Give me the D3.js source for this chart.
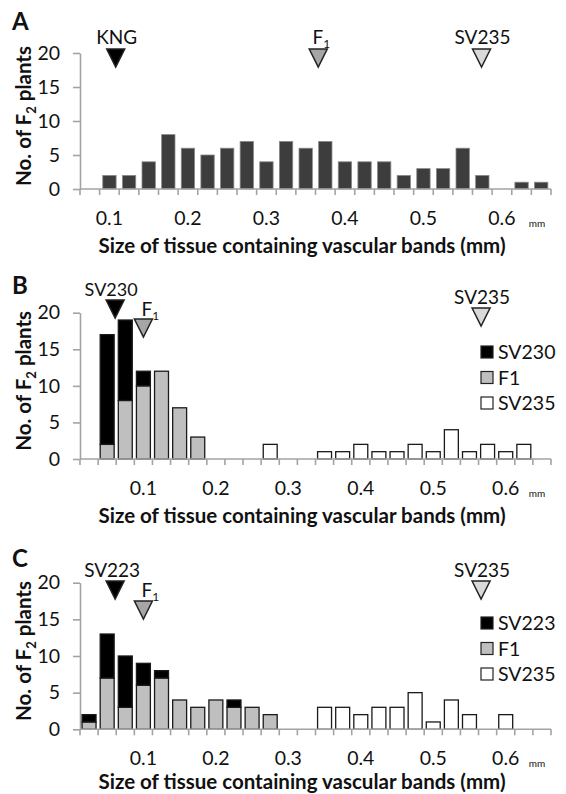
<!DOCTYPE html>
<html><head><meta charset="utf-8">
<script src="https://cdn.jsdelivr.net/npm/d3@7/dist/d3.min.js"></script>
<style>
body{margin:0;background:#fff}
svg{display:block}
text{font-family:Lato,"Open Sans",sans-serif;fill:#111}
</style>
</head><body>
<svg id="chart" width="566" height="794"></svg>
<script>
// ---------------- DATA ----------------
const binsA  = [0.075,0.1,0.125,0.15,0.175,0.2,0.225,0.25,0.275,0.3,0.325,0.35,0.375,0.4,0.425,0.45,0.475,0.5,0.525,0.55,0.575,0.6,0.625,0.65];
const countsA = [0,2,2,4,8,6,5,6,7,4,7,6,7,4,4,4,2,3,3,6,2,0,1,1];

const binsBC = [0.025,0.05,0.075,0.1,0.125,0.15,0.175,0.2,0.225,0.25,0.275,0.3,0.325,0.35,0.375,0.4,0.425,0.45,0.475,0.5,0.525,0.55,0.575,0.6,0.625,0.65];
const sv230B = [0,15,11,2,0,0,0,0,0,0,0,0,0,0,0,0,0,0,0,0,0,0,0,0,0,0];
const f1B    = [0,2,8,10,12,7,3,0,0,0,0,0,0,0,0,0,0,0,0,0,0,0,0,0,0,0];
const sv235B = [0,0,0,0,0,0,0,0,0,0,2,0,0,1,1,2,1,1,2,1,4,1,2,1,2,0];

const sv223C = [1,6,7,3,1,0,0,0,1,0,0,0,0,0,0,0,0,0,0,0,0,0,0,0,0,0];
const f1C    = [1,7,3,6,7,4,3,4,3,3,2,0,0,0,0,0,0,0,0,0,0,0,0,0,0,0];
const sv235C = [0,0,0,0,0,0,0,0,0,0,0,0,0,3,3,2,3,3,5,1,4,2,0,2,0,0];

const yTicks = [0,5,10,15,20];
const xTickLabels = [0.1,0.2,0.3,0.4,0.5,0.6];

const markerNamesA  = ["KNG","F","SV235"];
const markerSubsA   = ["","1",""];
const markerValuesA = [0.108,0.366,0.574];
const markerNamesB  = ["SV230","F","SV235"];
const markerSubsB   = ["","1",""];
const markerValuesB = [0.061,0.1,0.566];
const markerNamesC  = ["SV223","F","SV235"];
const markerSubsC   = ["","1",""];
const markerValuesC = [0.061,0.1,0.566];

const legendB = ["SV230","F1","SV235"];
const legendC = ["SV223","F1","SV235"];

// ---------------- STYLE ----------------
const COL_BLACK = "#000", COL_GRAY = "#bfbfbf", COL_WHITE = "#fff", COL_A = "#3d3d3d";
const markerFills = ["#000","#a6a6a6","#d9d9d9"];
const AXIS = "#a3a3a3";
const X0 = 80, X1 = 551;

const svg = d3.select("#chart");

function drawPanel(cfg){
  const g = svg.append("g");
  const n = cfg.bins.length;
  const band = d3.scaleBand().domain(cfg.bins).range([X0,X1]).paddingInner(cfg.pad).paddingOuter(cfg.pad/2);
  const step = band.step();
  const xl = d3.scaleLinear().domain([cfg.bins[0]-0.0125, cfg.bins[n-1]+0.0125]).range([X0,X1]);
  const y = d3.scaleLinear().domain([0,20]).range([cfg.base, cfg.top]);

  // panel letter
  g.append("text").attr("x",12).attr("y",cfg.letterY).attr("font-size",24).attr("font-weight","bold").text(cfg.letter);

  // y axis title
  const yt = g.append("text").attr("transform",`translate(31,${(cfg.base+cfg.top)/2-5}) rotate(-90)`)
    .attr("text-anchor","middle").attr("font-size",20.5).attr("font-weight","bold");
  yt.append("tspan").text("No. of F");
  yt.append("tspan").attr("font-size",13).attr("dy",5).text("2");
  yt.append("tspan").attr("dy",-5).text(" plants");

  // y axis
  const ya = g.append("g").attr("transform",`translate(${X0},0)`)
    .call(d3.axisLeft(y).tickValues(yTicks).tickSize(7).tickPadding(13).tickSizeOuter(0));
  ya.select(".domain").attr("stroke",AXIS).attr("stroke-width",1.6);
  ya.selectAll(".tick line").attr("stroke",AXIS).attr("stroke-width",1.6);
  ya.selectAll(".tick text").attr("font-size",19.5).attr("fill","#111").style("font-family","Lato, 'Open Sans', sans-serif");

  // bars
  if(cfg.single){
    g.selectAll("rect.a").data(cfg.bins).join("rect")
      .attr("x",d=>band(d)).attr("width",band.bandwidth())
      .attr("y",(d,i)=>y(cfg.single[i])).attr("height",(d,i)=>y(0)-y(cfg.single[i]))
      .attr("fill",COL_A).attr("stroke","#8a8a8a").attr("stroke-width",0.8)
      .attr("display",(d,i)=>cfg.single[i]>0?null:"none");
  } else {
    const rows = cfg.bins.map((b,i)=>({bin:b, f1:cfg.f1[i], par:cfg.par[i], sv:cfg.sv235[i]}));
    const stack = d3.stack().keys(["f1","par"])(rows);
    const fills = {f1:COL_GRAY, par:COL_BLACK};
    stack.forEach(layer=>{
      g.selectAll(null).data(layer.filter(d=>d[1]>d[0])).join("rect")
        .attr("x",d=>band(d.data.bin)).attr("width",band.bandwidth())
        .attr("y",d=>y(d[1])).attr("height",d=>y(d[0])-y(d[1]))
        .attr("fill",fills[layer.key]).attr("stroke","#1a1a1a").attr("stroke-width",1.3);
    });
    g.selectAll(null).data(rows.filter(d=>d.sv>0)).join("rect")
      .attr("x",d=>band(d.bin)).attr("width",band.bandwidth())
      .attr("y",d=>y(d.sv)).attr("height",d=>y(0)-y(d.sv))
      .attr("fill",COL_WHITE).attr("stroke","#1a1a1a").attr("stroke-width",1.3);
  }

  // x axis baseline with category boundary ticks
  g.append("line").attr("x1",X0).attr("x2",X1).attr("y1",cfg.base).attr("y2",cfg.base).attr("stroke",AXIS).attr("stroke-width",1.6);
  g.selectAll(null).data(d3.range(n+1)).join("line")
    .attr("x1",i=>X0+i*step).attr("x2",i=>X0+i*step)
    .attr("y1",cfg.base).attr("y2",cfg.base+6).attr("stroke",AXIS).attr("stroke-width",1.6);

  // x tick labels
  g.selectAll(null).data(xTickLabels).join("text")
    .attr("x",d=>xl(d)).attr("y",cfg.base+36).attr("text-anchor","middle").attr("font-size",19.5)
    .text(d=>d3.format(".1f")(d));
  g.append("text").attr("x",537).attr("y",cfg.base+38).attr("text-anchor","middle").attr("font-size",10).attr("fill","#333").text("mm");

  // x title
  g.append("text").attr("x",302).attr("y",cfg.base+cfg.titleDy).attr("text-anchor","middle")
    .attr("font-size",20.5).attr("font-weight","bold").text("Size of tissue containing vascular bands (mm)");

  // markers
  cfg.mNames.forEach((name,i)=>{
    const cx = xl(cfg.mValues[i]);
    const m = cfg.mPos[i];
    const t = g.append("text").attr("x",cx + m.dx).attr("y",m.label)
      .attr("text-anchor",m.anchor||"middle").attr("font-size",m.fs||19);
    t.append("tspan").text(name);
    if(cfg.mSubs[i]) t.append("tspan").attr("font-size",12).attr("dy",4).text(cfg.mSubs[i]);
    g.append("path").attr("d",`M${cx-9},${m.top}L${cx+9},${m.top}L${cx},${m.top+18}Z`)
      .attr("fill",markerFills[i]).attr("stroke","#222").attr("stroke-width",1.5).attr("stroke-linejoin","miter");
  });

  // legend
  if(cfg.legend){
    const lf = [COL_BLACK, COL_GRAY, COL_WHITE];
    cfg.legend.forEach((name,i)=>{
      const cy = cfg.legendY + i*25.5;
      g.append("rect").attr("x",481).attr("y",cy-6).attr("width",12).attr("height",12)
        .attr("fill",lf[i]).attr("stroke","#222").attr("stroke-width",1.2);
      g.append("text").attr("x",498).attr("y",cy+7).attr("font-size",19.5).text(name);
    });
  }
}

drawPanel({letter:"A", letterY:30, top:53, base:189, titleDy:64, pad:0.32,
  bins:binsA, single:countsA,
  mNames:markerNamesA, mSubs:markerSubsA, mValues:markerValuesA,
  mPos:[{label:44,top:49,dx:1},{label:44,top:49,dx:3},{label:44,top:49,dx:1}]});

drawPanel({letter:"B", letterY:294, top:312.7, base:459, titleDy:64, pad:0.23,
  bins:binsBC, f1:f1B, par:sv230B, sv235:sv235B,
  mNames:markerNamesB, mSubs:markerSubsB, mValues:markerValuesB,
  mPos:[{label:296,top:300,dx:-4,fs:18},{label:316,top:319,dx:-2,anchor:"start"},{label:304,top:308,dx:1}],
  legend:legendB, legendY:352});

drawPanel({letter:"C", letterY:567, top:582.7, base:729.3, titleDy:60, pad:0.23,
  bins:binsBC, f1:f1C, par:sv223C, sv235:sv235C,
  mNames:markerNamesC, mSubs:markerSubsC, mValues:markerValuesC,
  mPos:[{label:577,top:581,dx:-3},{label:597,top:601,dx:-2,anchor:"start"},{label:577,top:581,dx:1}],
  legend:legendC, legendY:623});
</script>
</body></html>
